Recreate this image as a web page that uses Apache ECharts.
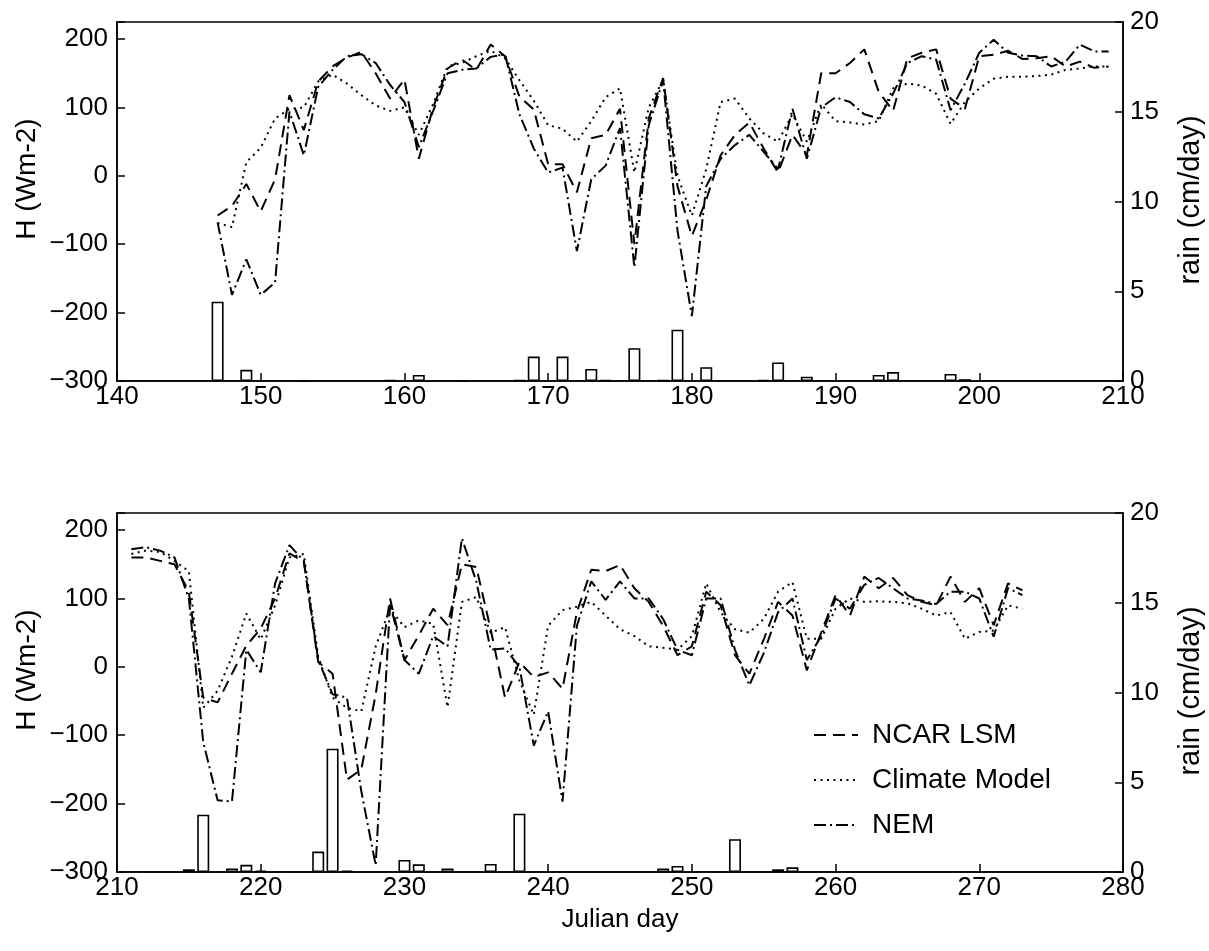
<!DOCTYPE html>
<html><head><meta charset="utf-8">
<script src="https://cdn.jsdelivr.net/npm/echarts@6/dist/echarts.min.js"></script>
<style>html,body{margin:0;padding:0;background:#fff}#c{width:1209px;height:951px}</style>
</head><body><div id="c"></div>
<script>
// ---- Top panel (days 147-209) ----
const daysTop = [147,148,149,150,151,152,153,154,155,156,157,158,159,160,161,162,163,164,165,166,167,168,169,170,171,172,173,174,175,176,177,178,179,180,181,182,183,184,185,186,187,188,189,190,191,192,193,194,195,196,197,198,199,200,201,202,203,204,205,206,207,208,209];
const ncarTop = [-58,-44,-12,-52,-5,118,67,138,160,173,181,150,113,141,25,100,157,170,155,192,175,116,97,17,17,-24,55,60,98,-100,84,143,-15,-88,-35,30,60,78,40,5,60,30,150,150,165,185,123,95,172,180,185,113,98,175,177,183,171,172,175,160,167,158,160];
const climTop = [-69,-75,20,41,84,98,100,138,148,135,118,103,95,100,60,105,160,165,175,183,172,140,110,74,69,50,80,115,128,5,100,140,0,-58,10,108,113,84,62,50,90,50,105,80,78,75,80,128,135,132,120,76,108,128,142,145,145,146,148,155,157,160,160];
const nemTop = [-68,-174,-122,-174,-156,94,30,130,155,175,178,165,133,108,42,95,150,155,157,174,178,90,40,5,12,-110,-5,15,70,-134,74,140,-80,-205,-15,25,45,60,35,10,98,25,100,115,108,90,84,120,165,175,170,96,135,180,199,180,176,175,160,167,192,182,182];
const rainDaysTop = [147,149,153,159,161,164,168,169,171,173,174,176,178,179,181,185,186,188,193,194,198,199];
const rainTop = [4.42,0.62,0.03,0.05,0.34,0.03,0.05,1.36,1.36,0.67,0.05,1.83,0.05,2.86,0.77,0.05,1.03,0.24,0.34,0.5,0.39,0.1];

// ---- Bottom panel (days 211-273) ----
const daysBot = [211,212,213,214,215,216,217,218,219,220,221,222,223,224,225,226,227,228,229,230,231,232,233,234,235,236,237,238,239,240,241,242,243,244,245,246,247,248,249,250,251,252,253,254,255,256,257,258,259,260,261,262,263,264,265,266,267,268,269,270,271,272,273];
const ncarBot = [160,160,155,150,110,-45,-52,-10,31,56,100,166,154,7,-10,-165,-150,-40,100,10,46,85,61,150,146,55,-45,7,-15,-8,-32,80,142,140,149,115,95,60,17,30,110,90,17,-10,40,95,75,-5,50,105,75,132,115,130,105,95,90,132,95,115,61,122,112];
const climBot = [165,170,168,155,140,-60,-35,15,78,40,90,160,165,15,-45,-60,-65,30,85,58,68,63,-59,95,102,50,58,-20,-70,60,83,88,95,75,55,45,30,28,25,45,122,80,55,50,70,110,124,41,41,85,100,95,96,95,93,85,75,80,41,51,53,90,85];
const nemBot = [172,175,170,160,100,-110,-195,-197,25,-8,122,178,155,10,-40,-45,-182,-290,92,10,-10,45,30,188,125,25,27,0,-115,-65,-197,60,125,98,125,100,100,70,25,17,100,100,25,-27,20,80,100,10,45,100,85,120,130,115,100,97,92,110,110,100,44,115,105];
const rainDaysBot = [215,216,218,219,220,224,225,226,230,231,233,236,238,248,249,253,256,257];
const rainBot = [0.15,3.19,0.2,0.4,0.08,1.14,6.87,0.07,0.67,0.43,0.2,0.45,3.25,0.2,0.34,1.83,0.15,0.26];

const seriesNames = ['NCAR LSM','Climate Model','NEM'];
const xRangeTop = [140,210];
const xRangeBot = [210,280];

const FONT = 'Liberation Sans, Arial, Helvetica, sans-serif';
const styles = {
  'NCAR LSM': [12, 7],
  'Climate Model': [2, 4.5],
  'NEM': [12, 4, 2, 4]
};
const zip = (xs, ys) => xs.map((x, i) => [x, ys[i]]);
const minus = v => String(v).replace('-', '\u2212');

const chart = echarts.init(document.getElementById('c'), null, {renderer: 'canvas'});

const axisLineStyle = {color: '#000', width: 1.5};
function xAxis(grid, range) {
  return {
    type: 'value', gridIndex: grid, min: range[0], max: range[1], interval: 10,
    axisLine: {show: true, onZero: false, lineStyle: axisLineStyle},
    axisTick: {show: true, inside: true, length: 8, lineStyle: axisLineStyle},
    axisLabel: {color: '#000', fontSize: 26, fontFamily: FONT, margin: 3},
    splitLine: {show: false}
  };
}
function yLeft(grid) {
  return {
    type: 'value', gridIndex: grid, min: -300, max: 225, interval: 100,
    axisLine: {show: true, onZero: false, lineStyle: axisLineStyle},
    axisTick: {show: true, inside: true, length: 8, lineStyle: axisLineStyle},
    axisLabel: {color: '#000', fontSize: 26, fontFamily: FONT, margin: 9,
      formatter: v => (v % 100 === 0 ? minus(v) : '')},
    splitLine: {show: false}
  };
}
function yRight(grid) {
  return {
    type: 'value', gridIndex: grid, min: 0, max: 20, interval: 5, position: 'right',
    axisLine: {show: true, onZero: false, lineStyle: axisLineStyle},
    axisTick: {show: true, inside: true, length: 8, lineStyle: axisLineStyle},
    axisLabel: {color: '#000', fontSize: 26, fontFamily: FONT, margin: 7},
    splitLine: {show: false}
  };
}
function lineSeries(name, data, xi, yi) {
  return {
    name, type: 'line', xAxisIndex: xi, yAxisIndex: yi, data,
    symbol: 'none', animation: false, z: 5,
    itemStyle: {color: 'rgba(0,0,0,0)'},
    lineStyle: {color: '#000', width: 2, type: styles[name]}
  };
}
function barSeries(data, xi, yi) {
  return {
    type: 'bar', xAxisIndex: xi, yAxisIndex: yi, data, barWidth: 12,
    animation: false, z: 3,
    itemStyle: {color: '#fff', borderColor: '#000', borderWidth: 1.6}
  };
}
function title(text, x, y, rot, size) {
  return {type: 'text', x, y, rotation: rot,
    style: {text, font: size + 'px ' + FONT, fill: '#000', align: 'center', verticalAlign: 'middle'}};
}

const option = {
  backgroundColor: '#fff',
  animation: false,
  grid: [
    {left: 117, top: 22, width: 1006, height: 359, show: true, borderColor: '#000', borderWidth: 1.5},
    {left: 117, top: 513, width: 1006, height: 359, show: true, borderColor: '#000', borderWidth: 1.5}
  ],
  xAxis: [xAxis(0, xRangeTop), xAxis(1, xRangeBot)],
  yAxis: [yLeft(0), yRight(0), yLeft(1), yRight(1)],
  legend: {
    data: seriesNames, orient: 'vertical', left: 808, top: 715,
    itemWidth: 44, itemHeight: 14, itemGap: 15,
    textStyle: {color: '#000', fontSize: 28, fontFamily: FONT, lineHeight: 30, padding: [0, 0, 0, 9]},
    itemStyle: {color: 'rgba(0,0,0,0)', borderWidth: 0, opacity: 0},
    lineStyle: {color: '#000', width: 2},
    selectedMode: false
  },
  graphic: [
    title('H (Wm-2)', 27, 179, Math.PI / 2, 28),
    title('H (Wm-2)', 27, 670, Math.PI / 2, 28),
    title('rain (cm/day)', 1191, 200, Math.PI / 2, 29),
    title('rain (cm/day)', 1191, 691, Math.PI / 2, 29),
    title('Julian day', 620, 920, 0, 26)
  ],
  series: [
    barSeries(zip(rainDaysTop, rainTop), 0, 1),
    barSeries(zip(rainDaysBot, rainBot), 1, 3),
    lineSeries('NCAR LSM', zip(daysTop, ncarTop), 0, 0),
    lineSeries('Climate Model', zip(daysTop, climTop), 0, 0),
    lineSeries('NEM', zip(daysTop, nemTop), 0, 0),
    lineSeries('NCAR LSM', zip(daysBot, ncarBot), 1, 2),
    lineSeries('Climate Model', zip(daysBot, climBot), 1, 2),
    lineSeries('NEM', zip(daysBot, nemBot), 1, 2)
  ]
};
chart.setOption(option);
</script>
</body></html>
